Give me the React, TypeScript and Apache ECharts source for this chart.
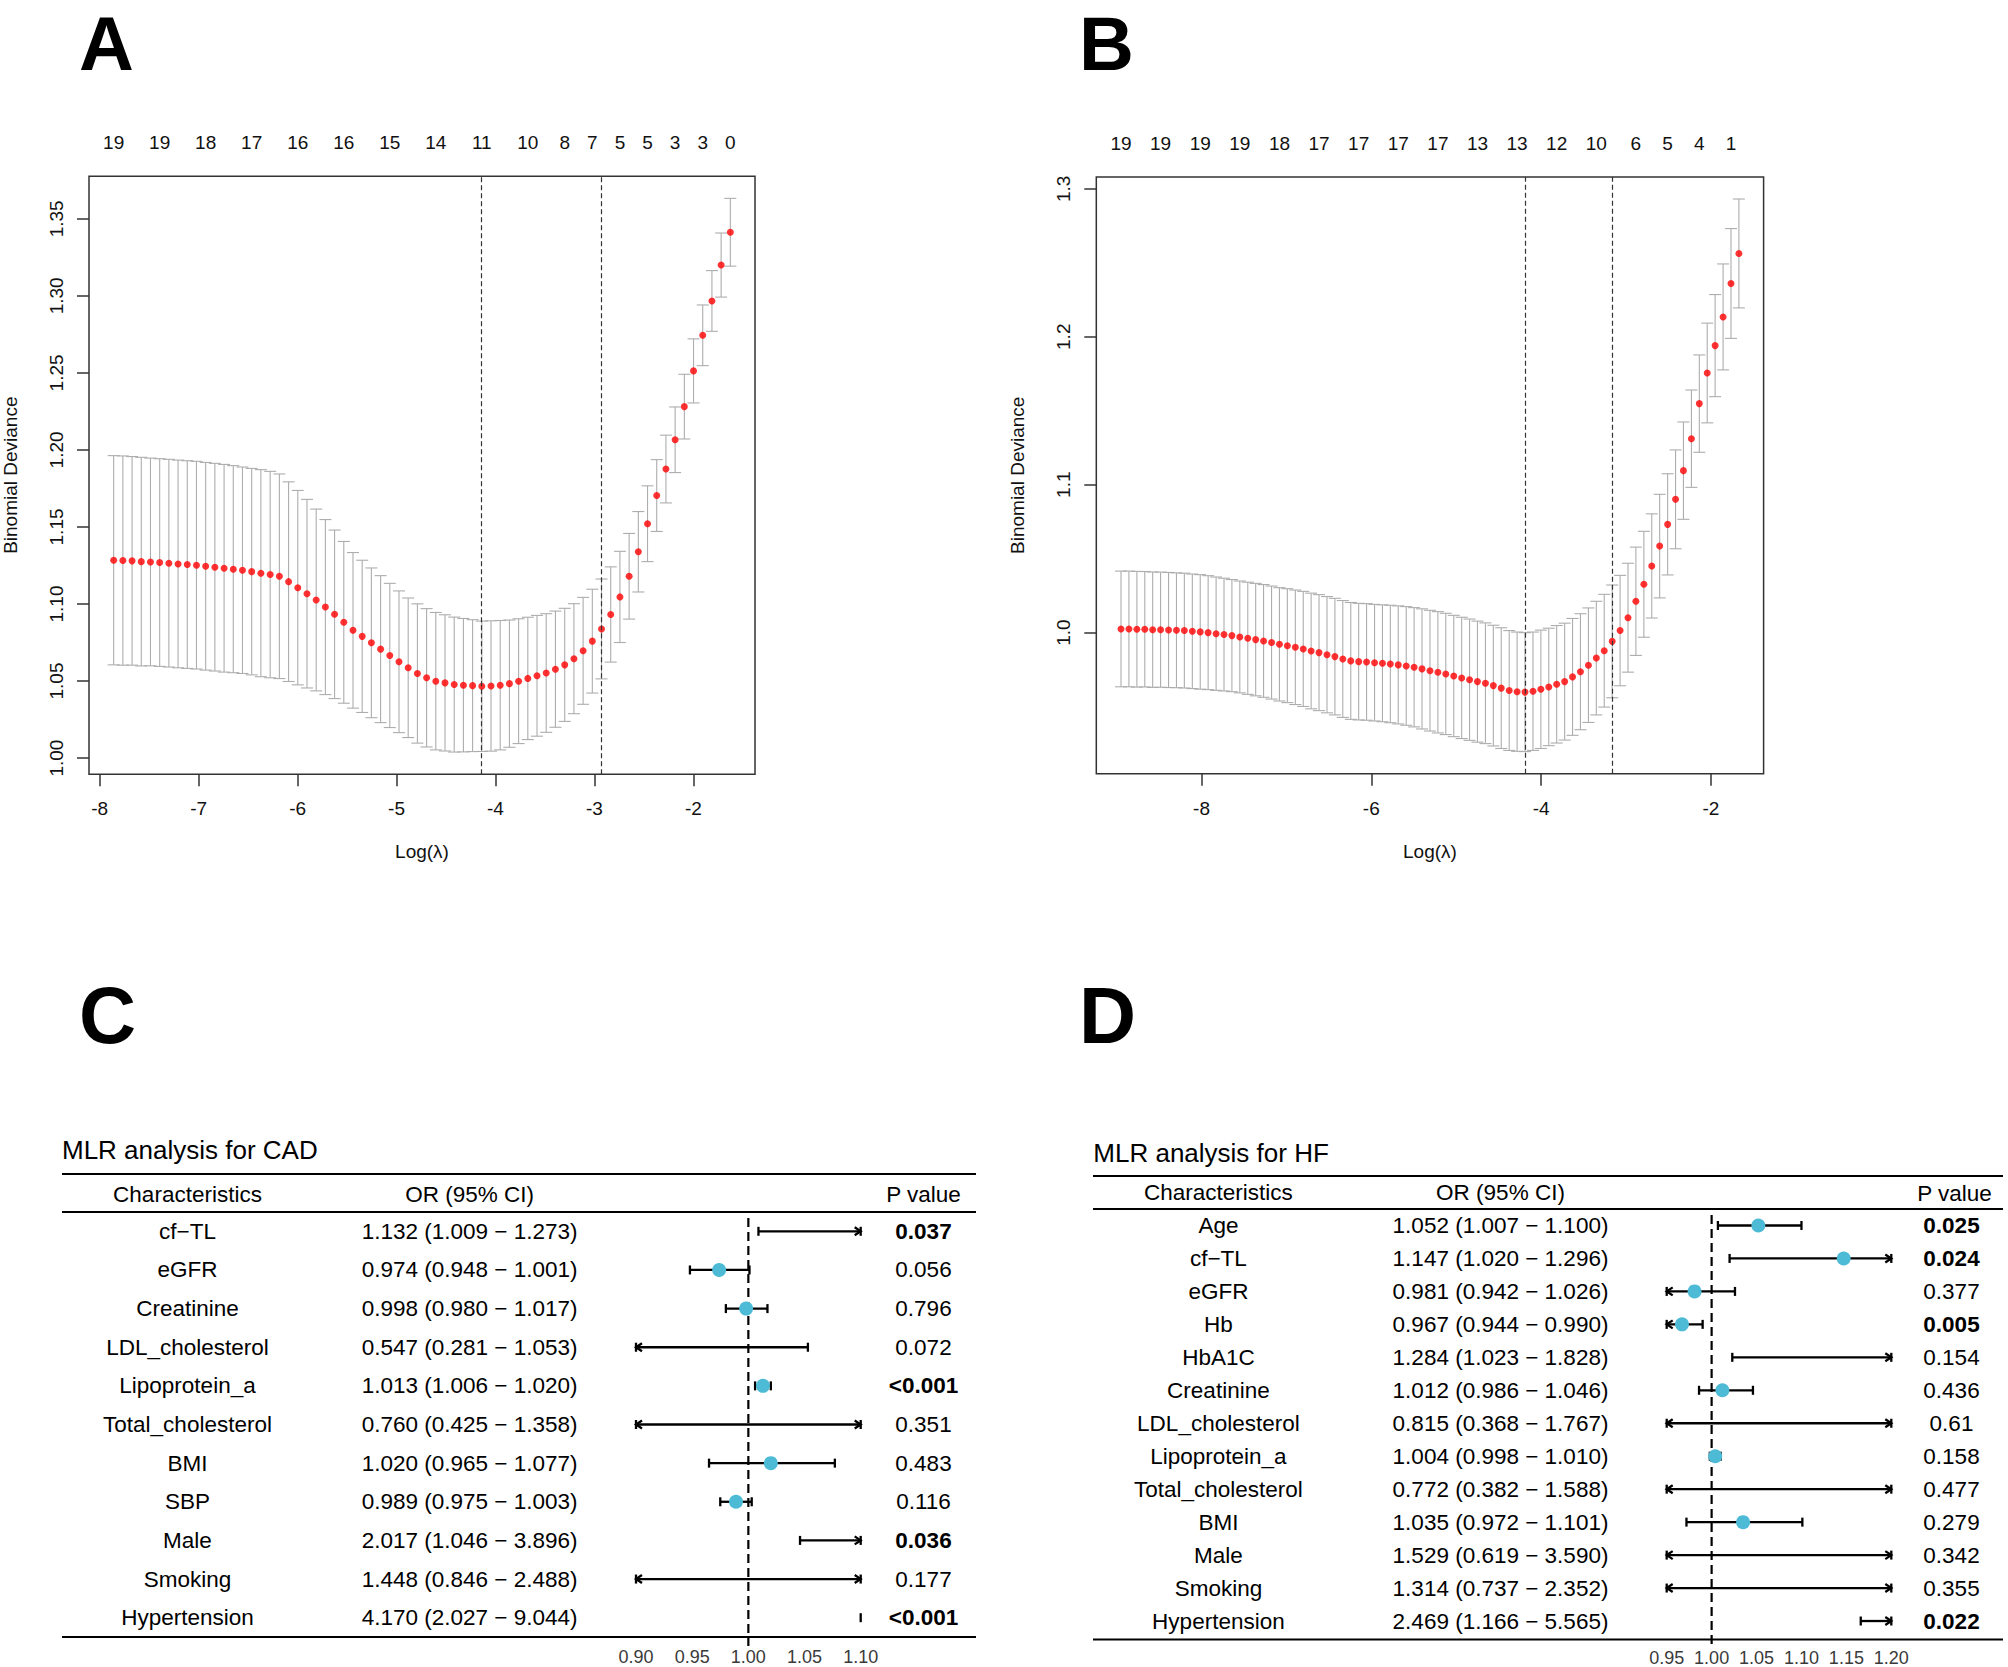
import React, { useEffect, useRef } from "react";
import * as echarts from "echarts";

const FONT = "'Liberation Sans', Arial, Helvetica, sans-serif";

// ---------------- Panel A : CV curve for CAD ----------------
const logLambdaA = [
  -7.859, -7.766, -7.673, -7.58, -7.487, -7.394, -7.301, -7.208, -7.115, -7.022,
  -6.929, -6.836, -6.743, -6.65, -6.557, -6.464, -6.371, -6.277, -6.184, -6.091,
  -5.998, -5.905, -5.812, -5.719, -5.626, -5.533, -5.44, -5.347, -5.254, -5.161,
  -5.068, -4.975, -4.882, -4.789, -4.696, -4.603, -4.51, -4.417, -4.324, -4.231,
  -4.138, -4.045, -3.952, -3.859, -3.766, -3.673, -3.58, -3.487, -3.394, -3.3,
  -3.207, -3.114, -3.021, -2.928, -2.835, -2.742, -2.649, -2.556, -2.463, -2.37,
  -2.277, -2.184, -2.091, -1.998, -1.905, -1.812, -1.719, -1.626,
];
const cvmA = [
  1.1284, 1.1282, 1.128, 1.1275, 1.1273, 1.1269, 1.1265, 1.126, 1.1256, 1.1252,
  1.1245, 1.1239, 1.1232, 1.1226, 1.1219, 1.121, 1.12, 1.1191, 1.118, 1.1145,
  1.1106, 1.1067, 1.1026, 1.098, 1.0933, 1.0881, 1.0829, 1.079, 1.0748, 1.0707,
  1.0666, 1.0625, 1.0586, 1.0549, 1.0521, 1.0499, 1.0488, 1.0477, 1.0473, 1.047,
  1.0466, 1.0468, 1.0473, 1.0483, 1.0499, 1.0517, 1.0534, 1.0552, 1.0577, 1.0605,
  1.0645, 1.0696, 1.0759, 1.0838, 1.0932, 1.1046, 1.118, 1.1339, 1.1521, 1.1704,
  1.1876, 1.2066, 1.2281, 1.2513, 1.2744, 1.2967, 1.32, 1.3413,
];
const cvsdA = [
  0.0679, 0.0679, 0.0677, 0.0677, 0.0674, 0.0674, 0.0674, 0.0674, 0.0674, 0.0674,
  0.0674, 0.0674, 0.0674, 0.0672, 0.067, 0.067, 0.0672, 0.067, 0.0664, 0.0648,
  0.0631, 0.0612, 0.059, 0.0568, 0.0547, 0.0525, 0.0505, 0.0494, 0.0486, 0.0477,
  0.0468, 0.046, 0.0453, 0.0452, 0.0449, 0.0446, 0.0442, 0.0438, 0.0433, 0.0428,
  0.0423, 0.0423, 0.042, 0.0413, 0.0405, 0.0397, 0.0392, 0.0385, 0.0377, 0.0367,
  0.0357, 0.0347, 0.0337, 0.0324, 0.0309, 0.0296, 0.0278, 0.0261, 0.0246, 0.0233,
  0.022, 0.0213, 0.021, 0.0208, 0.0197, 0.0197, 0.0208, 0.022,
];
const nzeroAtA = [0, 5, 10, 15, 20, 25, 30, 35, 40, 45, 49, 52, 55, 58, 61, 64, 67];
const nzeroA = [19, 19, 18, 17, 16, 16, 15, 14, 11, 10, 8, 7, 5, 5, 3, 3, 0];
const lambdaMinIdxA = 40;
const lambda1seIdxA = 53;
const xTicksA = [-8, -7, -6, -5, -4, -3, -2];
const yTicksA = [1.0, 1.05, 1.1, 1.15, 1.2, 1.25, 1.3, 1.35];

// ---------------- Panel B : CV curve for HF ----------------
const logLambdaB = [
  -8.948, -8.855, -8.761, -8.668, -8.575, -8.482, -8.388, -8.295, -8.202, -8.108,
  -8.015, -7.922, -7.828, -7.735, -7.642, -7.549, -7.455, -7.362, -7.269, -7.175,
  -7.082, -6.989, -6.895, -6.802, -6.709, -6.616, -6.522, -6.429, -6.336, -6.242,
  -6.149, -6.056, -5.962, -5.869, -5.776, -5.683, -5.589, -5.496, -5.403, -5.309,
  -5.216, -5.123, -5.029, -4.936, -4.843, -4.75, -4.656, -4.563, -4.47, -4.376,
  -4.283, -4.19, -4.096, -4.003, -3.91, -3.817, -3.723, -3.63, -3.537, -3.443,
  -3.35, -3.257, -3.163, -3.07, -2.977, -2.884, -2.79, -2.697, -2.604, -2.51,
  -2.417, -2.324, -2.23, -2.137, -2.044, -1.951, -1.857, -1.764, -1.671,
];
const cvmB = [
  1.0025, 1.0025, 1.0023, 1.0023, 1.002, 1.002, 1.0018, 1.0016, 1.0014, 1.0009,
  1.0005, 1.0, 0.9993, 0.9987, 0.998, 0.9971, 0.9962, 0.9953, 0.9944, 0.9933,
  0.9921, 0.9912, 0.9901, 0.989, 0.9876, 0.9865, 0.9851, 0.9838, 0.9822, 0.9809,
  0.9804, 0.9802, 0.9797, 0.9793, 0.9788, 0.9782, 0.9775, 0.9766, 0.9755, 0.9743,
  0.9732, 0.9721, 0.9707, 0.9694, 0.9682, 0.9669, 0.9658, 0.9642, 0.9625, 0.9609,
  0.9601, 0.9598, 0.9604, 0.9617, 0.9633, 0.9651, 0.9669, 0.9701, 0.9736, 0.978,
  0.9828, 0.9878, 0.9941, 1.0014, 1.0101, 1.0212, 1.0327, 1.0451, 1.0585, 1.0732,
  1.0901, 1.1095, 1.1311, 1.1548, 1.1755, 1.194, 1.2134, 1.236, 1.2563,
];
const cvsdB = [
  0.0391, 0.0391, 0.0391, 0.039, 0.039, 0.0389, 0.0389, 0.0388, 0.0388, 0.0387,
  0.0387, 0.0385, 0.0383, 0.0381, 0.0379, 0.0378, 0.0379, 0.038, 0.0381, 0.0382,
  0.0383, 0.0385, 0.0387, 0.0389, 0.0391, 0.0392, 0.0393, 0.0394, 0.0395, 0.0395,
  0.0394, 0.0394, 0.0394, 0.0395, 0.0397, 0.0399, 0.0401, 0.0403, 0.0406, 0.0408,
  0.041, 0.041, 0.041, 0.041, 0.041, 0.0409, 0.0408, 0.0408, 0.0408, 0.0405,
  0.0403, 0.0402, 0.04, 0.04, 0.0397, 0.0397, 0.0395, 0.0395, 0.0392, 0.0387,
  0.0384, 0.0381, 0.0381, 0.0373, 0.0368, 0.0366, 0.0358, 0.0352, 0.035, 0.0342,
  0.0334, 0.0329, 0.0329, 0.0329, 0.0337, 0.0345, 0.0358, 0.0371, 0.0368,
];
const nzeroAtB = [0, 5, 10, 15, 20, 25, 30, 35, 40, 45, 50, 55, 60, 65, 69, 73, 77];
const nzeroB = [19, 19, 19, 19, 18, 17, 17, 17, 17, 13, 13, 12, 10, 6, 5, 4, 1];
const lambdaMinIdxB = 51;
const lambda1seIdxB = 62;
const xTicksB = [-8, -6, -4, -2];
const yTicksB = [1.0, 1.1, 1.2, 1.3];

// ---------------- Panel C : MLR for CAD ----------------
const charC = ["cf\u2212TL", "eGFR", "Creatinine", "LDL_cholesterol", "Lipoprotein_a", "Total_cholesterol", "BMI", "SBP", "Male", "Smoking", "Hypertension"];
const orC = [1.132, 0.974, 0.998, 0.547, 1.013, 0.76, 1.02, 0.989, 2.017, 1.448, 4.17];
const lowC = [1.009, 0.948, 0.98, 0.281, 1.006, 0.425, 0.965, 0.975, 1.046, 0.846, 2.027];
const highC = [1.273, 1.001, 1.017, 1.053, 1.02, 1.358, 1.077, 1.003, 3.896, 2.488, 9.044];
const pC = ["0.037", "0.056", "0.796", "0.072", "<0.001", "0.351", "0.483", "0.116", "0.036", "0.177", "<0.001"];
const xLimC = [0.9, 1.1];
const xTicksC = [0.9, 0.95, 1.0, 1.05, 1.1];

// ---------------- Panel D : MLR for HF ----------------
const charD = ["Age", "cf\u2212TL", "eGFR", "Hb", "HbA1C", "Creatinine", "LDL_cholesterol", "Lipoprotein_a", "Total_cholesterol", "BMI", "Male", "Smoking", "Hypertension"];
const orD = [1.052, 1.147, 0.981, 0.967, 1.284, 1.012, 0.815, 1.004, 0.772, 1.035, 1.529, 1.314, 2.469];
const lowD = [1.007, 1.02, 0.942, 0.944, 1.023, 0.986, 0.368, 0.998, 0.382, 0.972, 0.619, 0.737, 1.166];
const highD = [1.1, 1.296, 1.026, 0.99, 1.828, 1.046, 1.767, 1.01, 1.588, 1.101, 3.59, 2.352, 5.565];
const pD = ["0.025", "0.024", "0.377", "0.005", "0.154", "0.436", "0.61", "0.158", "0.477", "0.279", "0.342", "0.355", "0.022"];
const xLimD = [0.95, 1.2];
const xTicksD = [0.95, 1.0, 1.05, 1.1, 1.15, 1.2];

const refValue = 1;

// ---------------- helpers ----------------
function padRange(vals: number[]) {
  const mn = Math.min(...vals);
  const mx = Math.max(...vals);
  const p = (mx - mn) * 0.04;
  return [mn - p, mx + p];
}
const isSig = (p: string) => p.startsWith("<") || parseFloat(p) < 0.05;
const orText = (o: number[], l: number[], h: number[]) =>
  o.map((v, i) => `${v.toFixed(3)} (${l[i].toFixed(3)} \u2212 ${h[i].toFixed(3)})`);

function cvBars(xs: number[], m: number[], s: number[], idx: number) {
  return {
    type: "custom",
    xAxisIndex: idx,
    yAxisIndex: idx,
    z: 2,
    silent: true,
    data: xs.map((x, i) => [x, m[i] - s[i], m[i] + s[i]]),
    encode: { x: 0, y: [1, 2] },
    renderItem: (params: any, api: any) => {
      const x = api.value(0);
      const lo = api.coord([x, api.value(1)]);
      const hi = api.coord([x, api.value(2)]);
      const w = 6;
      const st = () => ({ stroke: "#ADADAD", lineWidth: 1.1 });
      return {
        type: "group",
        children: [
          { type: "line", shape: { x1: lo[0], y1: lo[1], x2: hi[0], y2: hi[1] }, style: st() },
          { type: "line", shape: { x1: lo[0] - w, y1: lo[1], x2: lo[0] + w, y2: lo[1] }, style: st() },
          { type: "line", shape: { x1: hi[0] - w, y1: hi[1], x2: hi[0] + w, y2: hi[1] }, style: st() },
        ],
      };
    },
  };
}

function cvDots(xs: number[], m: number[], idx: number, minIdx: number, seIdx: number) {
  return {
    type: "scatter",
    xAxisIndex: idx,
    yAxisIndex: idx,
    z: 4,
    silent: true,
    symbol: "circle",
    symbolSize: 7,
    itemStyle: { color: "#FF0000" },
    data: xs.map((x, i) => [x, m[i]]),
    markLine: {
      silent: true,
      symbol: ["none", "none"],
      label: { show: false },
      lineStyle: { color: "#333", type: [5, 3], width: 1.2 },
      data: [{ xAxis: xs[minIdx] }, { xAxis: xs[seIdx] }],
    },
  };
}

function nzeroLabels(xs: number[], at: number[], nz: number[], idx: number, yTop: number) {
  return {
    type: "custom",
    xAxisIndex: idx,
    yAxisIndex: idx,
    silent: true,
    data: at.map((i, k) => [xs[i], nz[k]]),
    encode: { x: 0 },
    renderItem: (params: any, api: any) => {
      const p = api.coord([api.value(0), yTop]);
      return {
        type: "text",
        x: p[0],
        y: p[1] - 33.5,
        style: {
          text: String(api.value(1)),
          fontSize: 19,
          fontFamily: FONT,
          fill: "#111",
          align: "center",
          verticalAlign: "middle",
        },
      };
    },
  };
}

function forestSeries(o: number[], l: number[], h: number[], lim: number[], xi: number, yi: number) {
  return {
    type: "custom",
    xAxisIndex: xi,
    yAxisIndex: yi,
    z: 3,
    silent: true,
    data: o.map((v, i) => [v, l[i], h[i], i]),
    encode: { x: [0, 1, 2], y: 3 },
    renderItem: (params: any, api: any) => {
      const v = api.value(0);
      const lo = api.value(1);
      const hi = api.value(2);
      const r = api.value(3);
      const [xmin, xmax] = lim;
      const yc = api.coord([xmin, r])[1];
      const X = (val: number) => api.coord([val, r])[0];
      const lw = 2.3;
      const capH = 4.5;
      const aL = 6;
      const aH = 4;
      const ch: any[] = [];
      const seg = (x1: number, y1: number, x2: number, y2: number) =>
        ch.push({ type: "line", shape: { x1, y1, x2, y2 }, style: { stroke: "#000", lineWidth: lw } });
      if (lo > xmax || hi < xmin) {
        const xe = X(lo > xmax ? xmax : xmin);
        seg(xe, yc - capH, xe, yc + capH);
      } else {
        const xl = X(Math.max(lo, xmin));
        const xr = X(Math.min(hi, xmax));
        seg(xl, yc, xr, yc);
        seg(xl, yc - capH, xl, yc + capH);
        seg(xr, yc - capH, xr, yc + capH);
        if (lo < xmin) {
          ch.push({
            type: "polyline",
            shape: { points: [[xl + aL, yc - aH], [xl, yc], [xl + aL, yc + aH]] },
            style: { stroke: "#000", lineWidth: lw, fill: null },
          });
        }
        if (hi > xmax) {
          ch.push({
            type: "polyline",
            shape: { points: [[xr - aL, yc - aH], [xr, yc], [xr - aL, yc + aH]] },
            style: { stroke: "#000", lineWidth: lw, fill: null },
          });
        }
        if (v >= xmin && v <= xmax) {
          ch.push({ type: "circle", shape: { cx: X(v), cy: yc, r: 7 }, style: { fill: "#4DBBD5" } });
        }
      }
      return { type: "group", children: ch };
    },
  };
}

function refLine(xi: number, yi: number) {
  return {
    type: "custom",
    xAxisIndex: xi,
    yAxisIndex: yi,
    z: 2,
    silent: true,
    data: [[refValue, 0]],
    encode: { x: 0 },
    renderItem: (params: any, api: any) => {
      const cs = params.coordSys;
      const x = api.coord([api.value(0), 0])[0];
      return {
        type: "line",
        shape: { x1: x, y1: cs.y + 6, x2: x, y2: cs.y + cs.height + 9 },
        style: { stroke: "#000", lineWidth: 2.2, lineDash: [9, 5] },
      };
    },
  };
}

function cvXAxis(idx: number, range: number[], ticks: number[]) {
  return {
    gridIndex: idx,
    type: "value",
    min: range[0],
    max: range[1],
    axisLine: { show: false, onZero: false },
    splitLine: { show: false },
    axisTick: { show: true, length: 12, customValues: ticks, lineStyle: { color: "#333", width: 1.5 } },
    axisLabel: { customValues: ticks, margin: 25, fontSize: 19, color: "#111", fontFamily: FONT },
    name: "Log(\u03bb)",
    nameLocation: "middle",
    nameGap: 68,
    nameTextStyle: { fontSize: 19, color: "#111", fontFamily: FONT },
  };
}

function cvYAxis(idx: number, range: number[], ticks: number[], digits: number) {
  return {
    gridIndex: idx,
    type: "value",
    min: range[0],
    max: range[1],
    axisLine: { show: false, onZero: false },
    splitLine: { show: false },
    axisTick: { show: true, length: 12, customValues: ticks, lineStyle: { color: "#333", width: 1.5 } },
    axisLabel: {
      customValues: ticks,
      formatter: (v: number) => v.toFixed(digits),
      rotate: 90,
      margin: 23,
      fontSize: 19,
      color: "#111",
      fontFamily: FONT,
    },
    name: "Binomial Deviance",
    nameLocation: "middle",
    nameRotate: 90,
    nameGap: 69,
    nameTextStyle: { fontSize: 19, color: "#111", fontFamily: FONT },
  };
}

function forestXAxis(idx: number, lim: number[], ticks: number[], margin: number) {
  return {
    gridIndex: idx,
    type: "value",
    min: lim[0],
    max: lim[1],
    position: "bottom",
    axisLine: { show: false, onZero: false },
    splitLine: { show: false },
    axisTick: { show: false },
    axisLabel: {
      customValues: ticks,
      formatter: (v: number) => v.toFixed(2),
      margin,
      fontSize: 18,
      color: "#3a3a3a",
      fontFamily: FONT,
    },
  };
}

function catAxis(idx: number, data: string[], position: string, margin: number, rich = false) {
  const base: any = {
    gridIndex: idx,
    type: "category",
    inverse: true,
    data,
    position,
    axisLine: { show: false },
    axisTick: { show: false },
    splitLine: { show: false },
    axisLabel: {
      interval: 0,
      margin,
      align: "center",
      fontSize: 22.5,
      color: "#000",
      fontFamily: FONT,
    },
  };
  if (rich) {
    base.axisLabel.formatter = (v: string) => (isSig(v) ? `{b|${v}}` : `{n|${v}}`);
    base.axisLabel.rich = {
      b: { fontWeight: "bold", fontSize: 22.5, fontFamily: FONT, color: "#000" },
      n: { fontSize: 22.5, fontFamily: FONT, color: "#000" },
    };
  }
  return base;
}

const txt = (text: string, x: number, y: number, size: number, align = "center", weight = "normal") => ({
  type: "text",
  x,
  y,
  silent: true,
  style: { text, fontSize: size, fontFamily: FONT, fontWeight: weight, fill: "#000", align, verticalAlign: "middle" },
});
const rule = (x1: number, x2: number, y: number) => ({
  type: "line",
  silent: true,
  shape: { x1, y1: y, x2, y2: y },
  style: { stroke: "#000", lineWidth: 2 },
});

export default function App() {
  const ref = useRef<HTMLDivElement>(null);
  useEffect(() => {
    if (!ref.current) return;
    const chart = echarts.init(ref.current, null, { renderer: "svg" });
    const xA = padRange(logLambdaA);
    const yA = padRange([...cvmA.map((m, i) => m - cvsdA[i]), ...cvmA.map((m, i) => m + cvsdA[i])]);
    const xB = padRange(logLambdaB);
    const yB = padRange([...cvmB.map((m, i) => m - cvsdB[i]), ...cvmB.map((m, i) => m + cvsdB[i])]);

    const option: any = {
      animation: false,
      backgroundColor: "#ffffff",
      grid: [
        { left: 88.6, top: 176.2, width: 666.4, height: 598, show: true, borderColor: "#333", borderWidth: 1.5, backgroundColor: "transparent" },
        { left: 1096.3, top: 176.9, width: 667.3, height: 596.8, show: true, borderColor: "#333", borderWidth: 1.5, backgroundColor: "transparent" },
        { left: 636, top: 1212, width: 224.7, height: 425 },
        { left: 1666.7, top: 1209, width: 224.6, height: 430.5 },
      ],
      xAxis: [
        cvXAxis(0, xA, xTicksA),
        cvXAxis(1, xB, xTicksB),
        forestXAxis(2, xLimC, xTicksC, 10.7),
        forestXAxis(3, xLimD, xTicksD, 11.5),
      ],
      yAxis: [
        cvYAxis(0, yA, yTicksA, 2),
        cvYAxis(1, yB, yTicksB, 1),
        catAxis(2, charC, "left", 636 - 187.5),
        catAxis(2, orText(orC, lowC, highC), "left", 636 - 469.6),
        catAxis(2, pC, "right", 923.5 - 860.7, true),
        catAxis(3, charD, "left", 1666.7 - 1218.4),
        catAxis(3, orText(orD, lowD, highD), "left", 1666.7 - 1500.5),
        catAxis(3, pD, "right", 1951.5 - 1891.3, true),
      ],
      series: [
        cvBars(logLambdaA, cvmA, cvsdA, 0),
        cvDots(logLambdaA, cvmA, 0, lambdaMinIdxA, lambda1seIdxA),
        nzeroLabels(logLambdaA, nzeroAtA, nzeroA, 0, yA[1]),
        cvBars(logLambdaB, cvmB, cvsdB, 1),
        cvDots(logLambdaB, cvmB, 1, lambdaMinIdxB, lambda1seIdxB),
        nzeroLabels(logLambdaB, nzeroAtB, nzeroB, 1, yB[1]),
        refLine(2, 2),
        forestSeries(orC, lowC, highC, xLimC, 2, 2),
        refLine(3, 5),
        forestSeries(orD, lowD, highD, xLimD, 3, 5),
      ],
      graphic: [
        txt("A", 79, 43, 76, "left", "bold"),
        txt("B", 1079, 43, 76, "left", "bold"),
        txt("C", 79, 1015, 79, "left", "bold"),
        txt("D", 1079, 1015, 79, "left", "bold"),
        txt("MLR analysis for CAD", 62, 1150, 26, "left"),
        txt("Characteristics", 187.5, 1194, 22.5),
        txt("OR (95% CI)", 469.6, 1194, 22.5),
        txt("P value", 923.5, 1194, 22.5),
        rule(62, 976, 1174),
        rule(62, 976, 1212),
        rule(62, 976, 1637),
        txt("MLR analysis for HF", 1093.3, 1153, 26, "left"),
        txt("Characteristics", 1218.4, 1192, 22.5),
        txt("OR (95% CI)", 1500.5, 1192, 22.5),
        txt("P value", 1954.5, 1193, 22.5),
        rule(1093, 2003, 1176),
        rule(1093, 2003, 1209),
        rule(1093, 2003, 1639.5),
      ],
    };
    chart.setOption(option);
    return () => chart.dispose();
  }, []);
  return (
    <div
      ref={ref}
      style={{ position: "absolute", left: 0, top: 0, width: "2008px", height: "1667px", background: "#fff" }}
    />
  );
}
